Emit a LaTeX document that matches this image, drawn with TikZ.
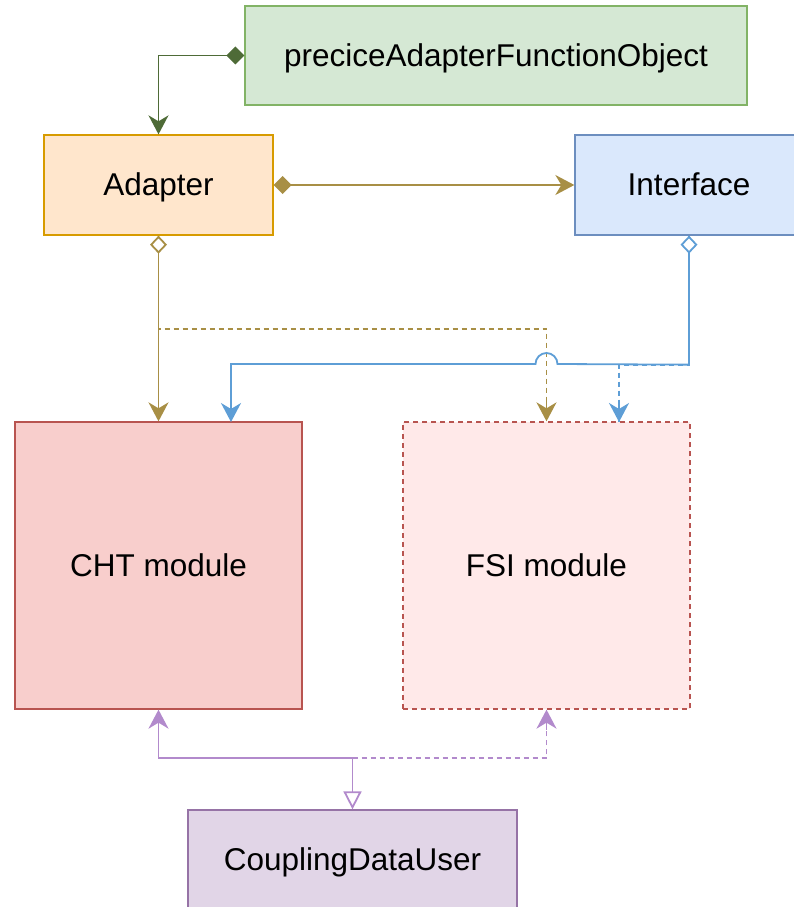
\documentclass[tikz,border=0pt]{standalone}
\usepackage{fontspec}
\setmainfont{Liberation Sans}
\usetikzlibrary{arrows.meta,calc}
\definecolor{gfill}{HTML}{D5E8D4}\definecolor{gline}{HTML}{82B366}
\definecolor{ofill}{HTML}{FFE6CC}\definecolor{oline}{HTML}{D79B00}
\definecolor{bfill}{HTML}{DAE8FC}\definecolor{bline}{HTML}{6C8EBF}
\definecolor{rfill}{HTML}{F8CECC}\definecolor{rline}{HTML}{B85450}
\definecolor{pfill}{HTML}{FFE9E9}
\definecolor{vfill}{HTML}{E1D5E7}\definecolor{vline}{HTML}{9673A6}
\definecolor{cgreen}{HTML}{4E6B37}
\definecolor{cgold}{HTML}{A88F45}
\definecolor{cblue}{HTML}{5E9ED6}
\definecolor{cpurple}{HTML}{B28ACC}
\tikzset{
  box/.style={draw, line width=1.3pt, minimum width=#1, inner sep=0pt,
    text height=28.5pt, text depth=6.7pt, font=\fontsize{31.5}{38}\selectfont},
  conn/.style={line width=1.8pt},
  dsh/.style={dash pattern=on 5pt off 4pt},
  harrow/.tip={Stealth[length=19pt,width=20pt,inset=6pt]},
  fdiam/.tip={Diamond[length=18pt,width=18pt]},
  odiam/.tip={Diamond[open,length=18pt,width=17pt,fill=white]},
  otri/.tip={Triangle[open,length=18pt,width=18pt,fill=white]}
}
\begin{document}
\begin{tikzpicture}[x=1pt,y=-1pt]
\useasboundingbox (0,0) rectangle (794,907);
\node[box=502pt, minimum height=99pt, fill=gfill, draw=gline] (func) at (496,55.5) {preciceAdapterFunctionObject};
\node[box=229pt, minimum height=100pt, fill=ofill, draw=oline] (adapter) at (158.5,185) {Adapter};
\node[box=228pt, minimum height=100pt, fill=bfill, draw=bline] (interface) at (689,185) {Interface};
\node[box=287pt, minimum height=287pt, fill=rfill, draw=rline] (cht) at (158.5,565.5) {CHT module};
\node[box=287pt, minimum height=287pt, fill=pfill, draw=rline, dsh] (fsi) at (546.5,565.5) {FSI module};
\node[box=329pt, minimum height=99pt, fill=vfill, draw=vline] (cdu) at (352.5,859.5) {CouplingDataUser};
\coordinate (chtin) at (231,422);
\coordinate (fsiin) at (619,422);
% green
\draw[conn, cgreen, fdiam-harrow] (func.west) -| (adapter.north);
% gold
\draw[conn, cgold, dsh] (adapter.south) -- ++(0,93) -| (fsi.north);
\draw[conn, cgold, -harrow] (fsi.north) ++(0,-20) -- (fsi.north);
\draw[conn, cgold, odiam-harrow] (adapter.south) -- (cht.north);
\draw[conn, cgold, fdiam-harrow] (adapter.east) -- (interface.west);
% blue
\draw[conn, cblue, dsh] (interface.south) -- ++(0,129) -| (fsiin);
\draw[conn, cblue, -harrow] (fsiin) ++(0,-20) -- (fsiin);
\draw[conn, cblue, odiam-harrow] (interface.south) -- ++(0,129) -- (557.5,364) arc[start angle=0,end angle=180,radius=11pt] -- (231,364) -- (chtin);
% purple
\draw[conn, cpurple, dsh] (cdu.north) ++(0,-51) -| (fsi.south);
\draw[conn, cpurple, -harrow] (fsi.south) ++(0,20) -- (fsi.south);
\draw[conn, cpurple, otri-harrow] (cdu.north) -- ++(0,-51) -| (cht.south);
\end{tikzpicture}
\end{document}
